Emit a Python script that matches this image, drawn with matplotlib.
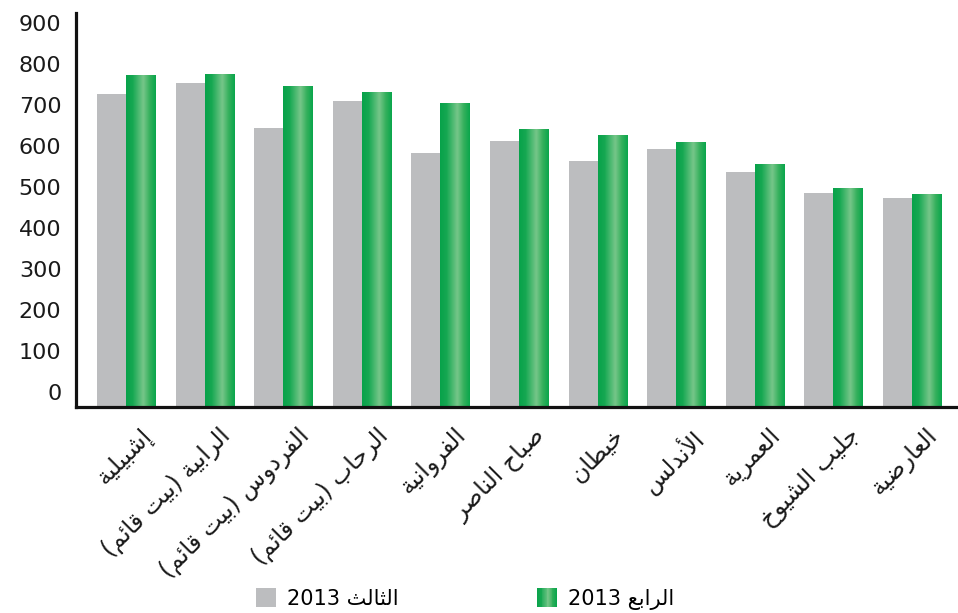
import numpy as np
import matplotlib
matplotlib.use("Agg")
import matplotlib.pyplot as plt
from matplotlib.colors import LinearSegmentedColormap
from matplotlib.patches import Rectangle
from matplotlib.legend_handler import HandlerBase
from matplotlib.transforms import ScaledTranslation

# ---------------- data ----------------
areas = [
    "إشبيلية",
    "الرابية (بيت قائم)",
    "الفردوس (بيت قائم)",
    "الرحاب (بيت قائم)",
    "الفروانية",
    "صباح الناصر",
    "خيطان",
    "الأندلس",
    "العمرية",
    "جليب الشيوخ",
    "العارضية",
]
q3_2013 = [726, 753, 644, 709, 583, 612, 563, 592, 536, 484, 473]
q4_2013 = [772, 775, 746, 731, 704, 641, 627, 609, 556, 497, 483]
series_names = ["الثالث 2013", "الرابع 2013"]
y_ticks = [0, 100, 200, 300, 400, 500, 600, 700, 800, 900]

# ---------------- Arabic shaping (presentation forms + visual order) ----------------
_FORMS = {
    "\u0621": (0xFE80, 0), "\u0622": (0xFE81, 1), "\u0623": (0xFE83, 1),
    "\u0624": (0xFE85, 1), "\u0625": (0xFE87, 1), "\u0626": (0xFE89, 2),
    "\u0627": (0xFE8D, 1), "\u0628": (0xFE8F, 2), "\u0629": (0xFE93, 1),
    "\u062A": (0xFE95, 2), "\u062B": (0xFE99, 2), "\u062C": (0xFE9D, 2),
    "\u062D": (0xFEA1, 2), "\u062E": (0xFEA5, 2), "\u062F": (0xFEA9, 1),
    "\u0630": (0xFEAB, 1), "\u0631": (0xFEAD, 1), "\u0632": (0xFEAF, 1),
    "\u0633": (0xFEB1, 2), "\u0634": (0xFEB5, 2), "\u0635": (0xFEB9, 2),
    "\u0636": (0xFEBD, 2), "\u0637": (0xFEC1, 2), "\u0638": (0xFEC5, 2),
    "\u0639": (0xFEC9, 2), "\u063A": (0xFECD, 2), "\u0641": (0xFED1, 2),
    "\u0642": (0xFED5, 2), "\u0643": (0xFED9, 2), "\u0644": (0xFEDD, 2),
    "\u0645": (0xFEE1, 2), "\u0646": (0xFEE5, 2), "\u0647": (0xFEE9, 2),
    "\u0648": (0xFEED, 1), "\u0649": (0xFEEF, 1), "\u064A": (0xFEF1, 2),
}
_LAM_ALEF = {"\u0622": 0xFEF5, "\u0623": 0xFEF7, "\u0625": 0xFEF9, "\u0627": 0xFEFB}
_MIRROR = {"(": ")", ")": "(", "[": "]", "]": "["}


def _shape(text):
    # tokens: (char, base codepoint or None, joining type)
    toks = []
    i = 0
    while i < len(text):
        c = text[i]
        if c == "\u0644" and i + 1 < len(text) and text[i + 1] in _LAM_ALEF:
            toks.append((c, _LAM_ALEF[text[i + 1]], 1))
            i += 2
            continue
        if c in _FORMS:
            base, jt = _FORMS[c]
            toks.append((c, base, jt))
        else:
            toks.append((c, None, 0))
        i += 1
    out = []
    for k, (c, base, jt) in enumerate(toks):
        if base is None:
            out.append(c)
            continue
        prev_jt = toks[k - 1][2] if k > 0 else 0
        next_jt = toks[k + 1][2] if k + 1 < len(toks) else 0
        join_prev = prev_jt == 2 and jt in (1, 2)
        join_next = jt == 2 and next_jt in (1, 2)
        if jt == 0:
            form = 0
        elif join_prev and join_next:
            form = 3
        elif join_next:
            form = 2
        elif join_prev:
            form = 1
        else:
            form = 0
        out.append(chr(base + form))
    return "".join(out)


def ar(text):
    shaped = _shape(text)
    runs, cur, cur_digit = [], "", None
    for ch in shaped:
        d = ch.isdigit()
        if cur and d != cur_digit:
            runs.append((cur, cur_digit))
            cur = ""
        cur += ch
        cur_digit = d
    if cur:
        runs.append((cur, cur_digit))
    parts = []
    for r, is_digit in reversed(runs):
        if is_digit:
            parts.append(r)
        else:
            parts.append("".join(_MIRROR.get(ch, ch) for ch in reversed(r)))
    return "".join(parts)


# ---------------- style ----------------
plt.rcParams["font.family"] = ["DejaVu Sans"]
gray = "#bcbdbf"
green_cmap = LinearSegmentedColormap.from_list(
    "bar_green",
    [(0.0, "#08a24a"), (0.22, "#16a852"), (0.58, "#76c689"),
     (0.8, "#34b05c"), (1.0, "#0aa64c")],
)

fig = plt.figure(figsize=(9.58, 6.13), dpi=100)
W, H = 958, 613
ax_left, ax_right, ax_top, ax_bot = 76, 958, 13, 407
ax = fig.add_axes([ax_left / W, 1 - ax_bot / H, (ax_right - ax_left) / W,
                   (ax_bot - ax_top) / H])

x = np.arange(len(areas))
bw = 0.37
y_floor = -36.6
y_top = 924

gray_bars = ax.bar(x - bw / 2, np.array(q3_2013) - y_floor, width=bw,
                   bottom=y_floor, color=gray, linewidth=0, zorder=2)
green_bars = ax.bar(x + bw / 2, np.array(q4_2013) - y_floor, width=bw,
                    bottom=y_floor, color="#16a852", linewidth=0, zorder=2)

grad = green_cmap(np.linspace(0, 1, 64))[np.newaxis, :, :3]
for p in green_bars:
    x0, y0 = p.get_x(), p.get_y()
    im = ax.imshow(grad, extent=(x0, x0 + p.get_width(), y0, y0 + p.get_height()),
                   aspect="auto", interpolation="bilinear", zorder=3)
    im.set_clip_path(p)

ax.set_xlim(-0.636, 10.585)
ax.set_ylim(y_floor, y_top)

for s in ("top", "right"):
    ax.spines[s].set_visible(False)
for s in ("left", "bottom"):
    ax.spines[s].set_linewidth(2.3)
    ax.spines[s].set_color("#111111")
    ax.spines[s].set_zorder(5)

ax.set_yticks(y_ticks)
ax.set_yticklabels([str(v) for v in y_ticks], fontsize=16, color="#1a1a1a")
ax.tick_params(axis="y", length=0, pad=10.5)

ax.set_xticks(x)
ax.set_xticklabels([ar(a) for a in areas], rotation=45, ha="right", va="top",
                   rotation_mode="anchor", fontsize=17, color="#1a1a1a")
ax.tick_params(axis="x", length=0, pad=12)
shift = ScaledTranslation(14 / 100, 0, fig.dpi_scale_trans)
for lab in ax.get_xticklabels():
    lab.set_transform(lab.get_transform() + shift)


class GradientHandler(HandlerBase):
    def create_artists(self, legend, orig_handle, xdescent, ydescent,
                       width, height, fontsize, trans):
        n = 24
        cols = green_cmap(np.linspace(0, 1, n))
        arts = []
        for k in range(n):
            arts.append(Rectangle((-xdescent + width * k / n, -ydescent),
                                  width / n * 1.05, height, facecolor=cols[k],
                                  edgecolor="none", transform=trans))
        return arts


h_gray = Rectangle((0, 0), 1, 1, facecolor=gray, edgecolor="none")
h_green = Rectangle((0, 0), 1, 1, facecolor="#16a852", edgecolor="none")
fig.legend([h_gray, h_green], [ar(s) for s in series_names],
           handler_map={h_green: GradientHandler()},
           loc="center left", bbox_to_anchor=(256 / W, 1 - 599 / H), ncol=2,
           frameon=False, fontsize=15, borderpad=0, borderaxespad=0,
           handlelength=0.96, handleheight=0.96, handletextpad=0.55,
           columnspacing=6.6)

fig.savefig("out.png", dpi=100, facecolor="white")
